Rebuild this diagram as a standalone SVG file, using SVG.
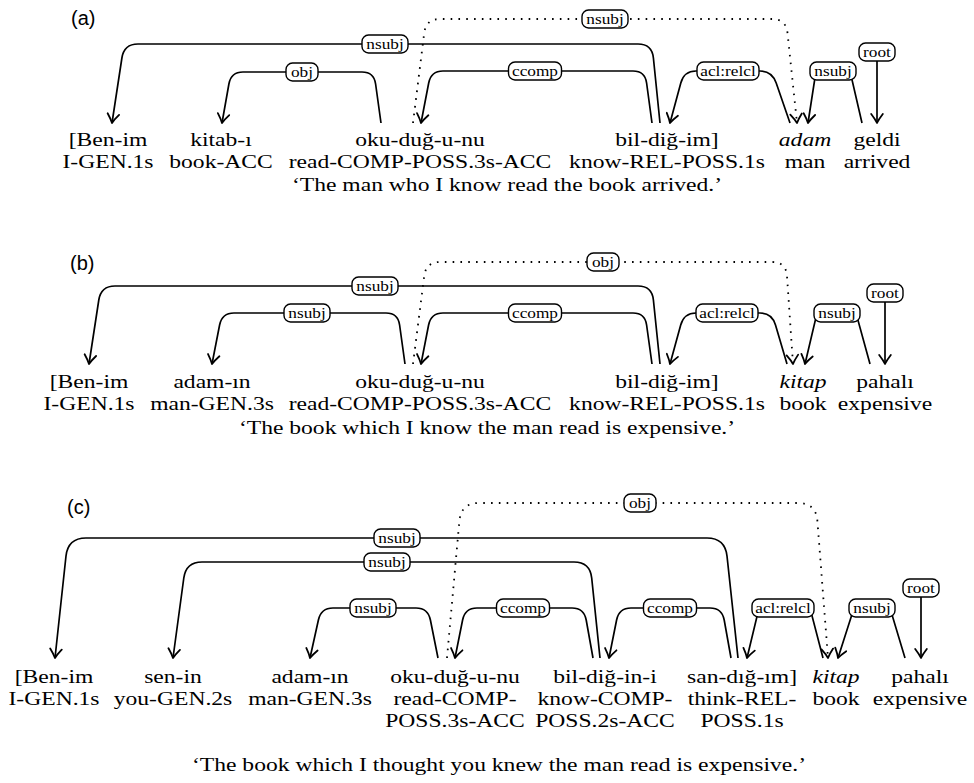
<svg xmlns="http://www.w3.org/2000/svg" width="974" height="783" viewBox="0 0 974 783">
<style>
.w{font-family:"Liberation Serif","Times New Roman",serif;font-size:19.5px;text-anchor:middle;fill:#000}
.i{font-style:italic}
.lt{font-family:"Liberation Serif","Times New Roman",serif;font-size:15px;text-anchor:middle;fill:#000}
.bx{fill:#fff;stroke:#000;stroke-width:1.4}
.e{fill:none;stroke:#000;stroke-width:1.7;marker-end:url(#ah)}
.d{fill:none;stroke:#000;stroke-width:1.8;stroke-dasharray:1.6 6.2;marker-end:url(#ah)}
.pl{font-family:"Liberation Sans",Arial,sans-serif;font-size:20px;fill:#000}
</style>
<defs>
<marker id="ah" viewBox="-11 -7 13 14" refX="0" refY="0" markerWidth="13" markerHeight="14" markerUnits="userSpaceOnUse" orient="auto">
<path d="M-9,-5.8 Q-3.5,-1.6 0,0 Q-3.5,1.6 -9,5.8" fill="none" stroke="#000" stroke-width="1.8" stroke-linecap="round" stroke-linejoin="round"/>
</marker>
</defs>
<rect width="974" height="783" fill="#fff"/>

<!-- Panel labels -->
<text class="pl" x="71" y="25">(a)</text>
<text class="pl" x="70" y="270">(b)</text>
<text class="pl" x="67" y="514">(c)</text>

<!-- ===== Panel (a) words ===== -->
<g id="a-w1"><text class="w" transform="matrix(1.21 0 0 1 108 146)">[Ben-im</text><text class="w" transform="matrix(1.21 0 0 1 108 168)">I-GEN.1s</text></g>
<g id="a-w2"><text class="w" transform="matrix(1.21 0 0 1 221 146)">kitab-ı</text><text class="w" transform="matrix(1.21 0 0 1 221 168)">book-ACC</text></g>
<g id="a-w3"><text class="w" transform="matrix(1.21 0 0 1 420 146)">oku-duğ-u-nu</text><text class="w" transform="matrix(1.21 0 0 1 420 168)">read-COMP-POSS.3s-ACC</text></g>
<g id="a-w4"><text class="w" transform="matrix(1.21 0 0 1 667 146)">bil-diğ-im]</text><text class="w" transform="matrix(1.21 0 0 1 667 168)">know-REL-POSS.1s</text></g>
<g id="a-w5"><text class="w i" transform="matrix(1.21 0 0 1 805 146)">adam</text><text class="w" transform="matrix(1.21 0 0 1 805 168)">man</text></g>
<g id="a-w6"><text class="w" transform="matrix(1.21 0 0 1 877 146)">geldi</text><text class="w" transform="matrix(1.21 0 0 1 877 168)">arrived</text></g>
<text id="a-sent" class="w" transform="matrix(1.21 0 0 1 507 191)">‘The man who I know read the book arrived.’</text>

<!-- ===== Panel (b) words ===== -->
<g id="b-w1"><text class="w" transform="matrix(1.21 0 0 1 89 388)">[Ben-im</text><text class="w" transform="matrix(1.21 0 0 1 89 410)">I-GEN.1s</text></g>
<g id="b-w2"><text class="w" transform="matrix(1.21 0 0 1 212 388)">adam-ın</text><text class="w" transform="matrix(1.21 0 0 1 212 410)">man-GEN.3s</text></g>
<g id="b-w3"><text class="w" transform="matrix(1.21 0 0 1 420 388)">oku-duğ-u-nu</text><text class="w" transform="matrix(1.21 0 0 1 420 410)">read-COMP-POSS.3s-ACC</text></g>
<g id="b-w4"><text class="w" transform="matrix(1.21 0 0 1 667 388)">bil-diğ-im]</text><text class="w" transform="matrix(1.21 0 0 1 667 410)">know-REL-POSS.1s</text></g>
<g id="b-w5"><text class="w i" transform="matrix(1.21 0 0 1 803 388)">kitap</text><text class="w" transform="matrix(1.21 0 0 1 803 410)">book</text></g>
<g id="b-w6"><text class="w" transform="matrix(1.21 0 0 1 885 388)">pahalı</text><text class="w" transform="matrix(1.21 0 0 1 885 410)">expensive</text></g>
<text id="b-sent" class="w" transform="matrix(1.21 0 0 1 487 434)">‘The book which I know the man read is expensive.’</text>

<!-- ===== Panel (c) words ===== -->
<g id="c-w1"><text class="w" transform="matrix(1.21 0 0 1 54 683)">[Ben-im</text><text class="w" transform="matrix(1.21 0 0 1 54 705)">I-GEN.1s</text></g>
<g id="c-w2"><text class="w" transform="matrix(1.21 0 0 1 173 683)">sen-in</text><text class="w" transform="matrix(1.21 0 0 1 173 705)">you-GEN.2s</text></g>
<g id="c-w3"><text class="w" transform="matrix(1.21 0 0 1 310 683)">adam-ın</text><text class="w" transform="matrix(1.21 0 0 1 310 705)">man-GEN.3s</text></g>
<g id="c-w4"><text class="w" transform="matrix(1.21 0 0 1 455 683)">oku-duğ-u-nu</text><text class="w" transform="matrix(1.21 0 0 1 455 705)">read-COMP-</text><text class="w" transform="matrix(1.21 0 0 1 455 727)">POSS.3s-ACC</text></g>
<g id="c-w5"><text class="w" transform="matrix(1.21 0 0 1 605 683)">bil-diğ-in-i</text><text class="w" transform="matrix(1.21 0 0 1 605 705)">know-COMP-</text><text class="w" transform="matrix(1.21 0 0 1 605 727)">POSS.2s-ACC</text></g>
<g id="c-w6"><text class="w" transform="matrix(1.21 0 0 1 742 683)">san-dığ-ım]</text><text class="w" transform="matrix(1.21 0 0 1 742 705)">think-REL-</text><text class="w" transform="matrix(1.21 0 0 1 742 727)">POSS.1s</text></g>
<g id="c-w7"><text class="w i" transform="matrix(1.21 0 0 1 836 683)">kitap</text><text class="w" transform="matrix(1.21 0 0 1 836 705)">book</text></g>
<g id="c-w8"><text class="w" transform="matrix(1.21 0 0 1 920 683)">pahalı</text><text class="w" transform="matrix(1.21 0 0 1 920 705)">expensive</text></g>
<text id="c-sent" class="w" transform="matrix(1.21 0 0 1 499 771)">‘The book which I thought you knew the man read is expensive.’</text>

<!-- ===== Connectors ===== -->
<g id="connectors">
<!-- (a) -->
<path class="e" d="M660,123 L653.4,58 Q652,44 638,44 H138 Q124,44 121.9,58 L112,123"/>
<path class="e" d="M381,123 L375.6,84 Q374,72 362,72 H243 Q231,72 228.9,84 L222,123"/>
<path class="e" d="M652,123 L646.6,83 Q645,71 633,71 H443 Q431,71 428.7,83 L421,123"/>
<path class="e" d="M790,123 L776.2,83 Q772,71 760,71 H696 Q684,71 680.8,83 L670,123"/>
<path class="e" d="M862,123 L850,71 L816,71 L808,123"/>
<path class="e" d="M877,52 L877,123"/>
<path class="d" d="M413,123 L424.2,33 Q426,19 440,19 H772 Q786,19 787.5,33 L797,123"/>
<!-- (b) -->
<path class="e" d="M660,364 L653.4,300 Q652,286 638,286 H115 Q101,286 98.8,300 L89,364"/>
<path class="e" d="M405,364 L399.6,325 Q398,313 386,313 H234 Q222,313 219.6,325 L212,364"/>
<path class="e" d="M652,364 L646.6,325 Q645,313 633,313 H443 Q431,313 428.6,325 L421,364"/>
<path class="e" d="M787,364 L775.5,325 Q772,313 760,313 H696 Q684,313 680.7,325 L670,364"/>
<path class="e" d="M870,364 L856,313 L817,313 L805,364"/>
<path class="e" d="M885,293 L885,364"/>
<path class="d" d="M413,364 L424.2,276 Q426,262 440,262 H772 Q786,262 787,276 L793,364"/>
<!-- (c) -->
<path class="e" d="M738,658 L727,556 Q725,538 707,538 H86 Q68,538 66,556 L55,658"/>
<path class="e" d="M600,658 L591.7,578 Q590,562 574,562 H202 Q186,562 183.8,578 L173,658"/>
<path class="e" d="M438,658 L430.4,620 Q428,608 416,608 H333 Q321,608 318.4,620 L310,658"/>
<path class="e" d="M593,658 L586.2,620 Q584,608 572,608 H477 Q465,608 462.6,620 L455,658"/>
<path class="e" d="M731,658 L724.2,620 Q722,608 710,608 H631 Q619,608 616.6,620 L609,658"/>
<path class="e" d="M823,658 L810,608 L759,608 L747,658"/>
<path class="e" d="M905,658 L890,608 L854,608 L838,658"/>
<path class="e" d="M921,588 L921,658"/>
<path class="d" d="M447,658 L459.4,521 Q461,503 479,503 H798 Q816,503 817.4,521 L828,658"/>

<!-- labels (a) -->
<g transform="translate(385 44)"><rect class="bx" x="-23" y="-9" width="46" height="18" rx="6.5"/><text class="lt" transform="matrix(1.15 0 0 1 0 4.6)">nsubj</text></g>
<g transform="translate(302 72)"><rect class="bx" x="-16" y="-9" width="32" height="18" rx="6.5"/><text class="lt" transform="matrix(1.15 0 0 1 0 4.6)">obj</text></g>
<g transform="translate(535 71)"><rect class="bx" x="-26.5" y="-9" width="53" height="18" rx="6.5"/><text class="lt" transform="matrix(1.15 0 0 1 0 4.6)">ccomp</text></g>
<g transform="translate(728 71)"><rect class="bx" x="-31" y="-9" width="62" height="18" rx="6.5"/><text class="lt" transform="matrix(1.15 0 0 1 0 4.6)">acl:relcl</text></g>
<g transform="translate(833 71)"><rect class="bx" x="-23" y="-9" width="46" height="18" rx="6.5"/><text class="lt" transform="matrix(1.15 0 0 1 0 4.6)">nsubj</text></g>
<g transform="translate(877 52)"><rect class="bx" x="-18" y="-9" width="36" height="18" rx="6.5"/><text class="lt" transform="matrix(1.15 0 0 1 0 4.6)">root</text></g>
<g transform="translate(605 19)"><rect class="bx" x="-23" y="-9" width="46" height="18" rx="6.5"/><text class="lt" transform="matrix(1.15 0 0 1 0 4.6)">nsubj</text></g>
<!-- labels (b) -->
<g transform="translate(375 286)"><rect class="bx" x="-23" y="-9" width="46" height="18" rx="6.5"/><text class="lt" transform="matrix(1.15 0 0 1 0 4.6)">nsubj</text></g>
<g transform="translate(307 313)"><rect class="bx" x="-23" y="-9" width="46" height="18" rx="6.5"/><text class="lt" transform="matrix(1.15 0 0 1 0 4.6)">nsubj</text></g>
<g transform="translate(535 313)"><rect class="bx" x="-26.5" y="-9" width="53" height="18" rx="6.5"/><text class="lt" transform="matrix(1.15 0 0 1 0 4.6)">ccomp</text></g>
<g transform="translate(727 313)"><rect class="bx" x="-31" y="-9" width="62" height="18" rx="6.5"/><text class="lt" transform="matrix(1.15 0 0 1 0 4.6)">acl:relcl</text></g>
<g transform="translate(837 313)"><rect class="bx" x="-23" y="-9" width="46" height="18" rx="6.5"/><text class="lt" transform="matrix(1.15 0 0 1 0 4.6)">nsubj</text></g>
<g transform="translate(885 293)"><rect class="bx" x="-18" y="-9" width="36" height="18" rx="6.5"/><text class="lt" transform="matrix(1.15 0 0 1 0 4.6)">root</text></g>
<g transform="translate(603 262)"><rect class="bx" x="-16" y="-9" width="32" height="18" rx="6.5"/><text class="lt" transform="matrix(1.15 0 0 1 0 4.6)">obj</text></g>
<!-- labels (c) -->
<g transform="translate(397 538)"><rect class="bx" x="-23" y="-9" width="46" height="18" rx="6.5"/><text class="lt" transform="matrix(1.15 0 0 1 0 4.6)">nsubj</text></g>
<g transform="translate(387 562)"><rect class="bx" x="-23" y="-9" width="46" height="18" rx="6.5"/><text class="lt" transform="matrix(1.15 0 0 1 0 4.6)">nsubj</text></g>
<g transform="translate(373 608)"><rect class="bx" x="-23" y="-9" width="46" height="18" rx="6.5"/><text class="lt" transform="matrix(1.15 0 0 1 0 4.6)">nsubj</text></g>
<g transform="translate(523 608)"><rect class="bx" x="-26.5" y="-9" width="53" height="18" rx="6.5"/><text class="lt" transform="matrix(1.15 0 0 1 0 4.6)">ccomp</text></g>
<g transform="translate(670 608)"><rect class="bx" x="-26.5" y="-9" width="53" height="18" rx="6.5"/><text class="lt" transform="matrix(1.15 0 0 1 0 4.6)">ccomp</text></g>
<g transform="translate(783 608)"><rect class="bx" x="-31" y="-9" width="62" height="18" rx="6.5"/><text class="lt" transform="matrix(1.15 0 0 1 0 4.6)">acl:relcl</text></g>
<g transform="translate(872 608)"><rect class="bx" x="-23" y="-9" width="46" height="18" rx="6.5"/><text class="lt" transform="matrix(1.15 0 0 1 0 4.6)">nsubj</text></g>
<g transform="translate(921 588)"><rect class="bx" x="-18" y="-9" width="36" height="18" rx="6.5"/><text class="lt" transform="matrix(1.15 0 0 1 0 4.6)">root</text></g>
<g transform="translate(640 503)"><rect class="bx" x="-16" y="-9" width="32" height="18" rx="6.5"/><text class="lt" transform="matrix(1.15 0 0 1 0 4.6)">obj</text></g>
</g>
</svg>
